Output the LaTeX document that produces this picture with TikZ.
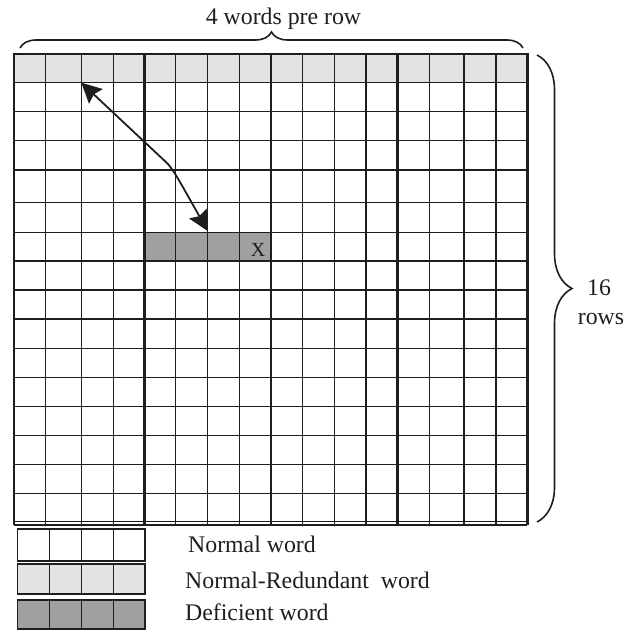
\documentclass[tikz,border=0pt]{standalone}
\usepackage{fontspec}
\setmainfont{Liberation Serif}
\usetikzlibrary{arrows.meta,decorations.pathreplacing}
\definecolor{lightcell}{HTML}{E3E3E3}
\definecolor{darkcell}{HTML}{A0A0A0}
\definecolor{ink}{HTML}{1E1E1E}
\begin{document}
\begin{tikzpicture}[x=1pt,y=-1pt,
  gridline/.style={draw=ink, line width=1.5pt},
  thickline/.style={draw=ink, line width=2.6pt},
  bracestyle/.style={draw=ink, line width=1.6pt, decorate},
  arrowline/.style={draw=ink, line width=1.8pt,
    {Stealth[length=20pt,width=20pt,inset=3pt]}-{Stealth[length=20pt,width=20pt,inset=3pt]}},
  labeltext/.style={text=ink, inner sep=0pt, font=\fontsize{23.8}{29}\selectfont},
  xtext/.style={text=ink, inner sep=0pt, font=\fontsize{20}{24}\selectfont}]
\useasboundingbox (0,0) rectangle (636,631);
\def\xs{14,45.7,81.3,113.3,144.3,175.7,207.7,239.3,271,302.7,334.3,366,397.7,429.3,464,496,527.3}
\def\ys{54,82.7,111.7,140.7,170,202.7,232.3,261,290,319,348.3,377.3,406.7,435.7,464.3,493.3,521.5}
% fills
\fill[lightcell] (14,54) rectangle (527.3,82.7);
\fill[darkcell] (144.3,232.3) rectangle (271,261);
% grid
\foreach \y in \ys { \draw[gridline] (14,\y) -- (527.3,\y); }
\draw[gridline] (14,525) -- (527.3,525);
\foreach \x in \xs { \draw[gridline] (\x,54) -- (\x,525); }
\foreach \x in {14,144.3,271,397.7,527.3} { \draw[thickline] (\x,54) -- (\x,525); }
\draw[thickline] (12.7,54) -- (528.6,54);
% deficient mark
\node[xtext, anchor=base] (xmark) at (258,256) {X};
% arrow
\coordinate (src) at (81.3,82.7);
\coordinate (bend) at (168,164);
\coordinate (dst) at (207.7,231);
\draw[arrowline] (src) -- (bend) .. controls (175,173) .. (dst);
% braces
\coordinate (tbl) at (20,48);
\coordinate (tbr) at (523,48);
\draw[bracestyle, decoration={brace, amplitude=16pt}] (tbl) -- (tbr);
\node[labeltext, anchor=base] (toplabel) at (283.5,24.5) {4 words pre row};
\coordinate (rbt) at (537,55);
\coordinate (rbb) at (537,522);
\draw[bracestyle, decoration={brace, amplitude=35pt}] (rbt) -- (rbb);
\node[labeltext, anchor=base] (rows16) at (599,295) {16};
\node[labeltext, anchor=base] (rowsword) at (601,324) {rows};
% legend
\foreach \fc/\ya/\yb in {white/529/561, lightcell/564/594, darkcell/600/629} {
  \fill[\fc] (17.7,\ya) rectangle (145,\yb);
  \foreach \x in {49.3,81.7,113.3} { \draw[gridline] (\x,\ya) -- (\x,\yb); }
  \draw[gridline] (17.7,\ya) rectangle (145,\yb);
}
\node[labeltext, anchor=base west] (leg1) at (188,552.7) {Normal word};
\node[labeltext, anchor=base west] (leg2) at (185,588.3) {Normal-Redundant~ word};
\node[labeltext, anchor=base west] (leg3) at (185,620) {Deficient word};
\end{tikzpicture}
\end{document}
